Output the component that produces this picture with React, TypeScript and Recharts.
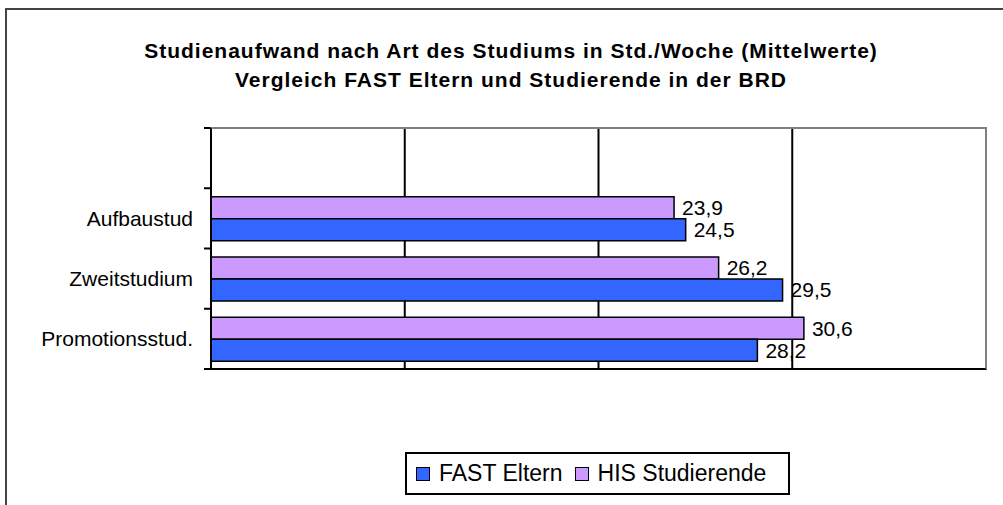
import React from 'react';
import { BarChart, Bar, XAxis, YAxis, CartesianGrid, LabelList } from 'recharts';

const categories = ['', 'Aufbaustud', 'Zweitstudium', 'Promotionsstud.'];
const fastEltern = [null, 24.5, 29.5, 28.2];
const hisStudierende = [null, 23.9, 26.2, 30.6];
const xTicks = [0, 10, 20, 30, 40];
const xMax = 40;
const titleLines = [
  'Studienaufwand nach Art des Studiums in Std./Woche (Mittelwerte)',
  'Vergleich FAST Eltern und Studierende in der BRD',
];
const series = [
  { key: 'fast', name: 'FAST Eltern', color: '#3366FF' },
  { key: 'his', name: 'HIS Studierende', color: '#CC99FF' },
];

const data = categories.map((c, i) => ({ cat: c, fast: fastEltern[i], his: hisStudierende[i] }));

const FONT = '"Liberation Sans", Arial, sans-serif';
const W = 1003;
const H = 505;
const margin = { top: 128, right: 17, bottom: 136, left: 11 };
const Y_AXIS_W = 200;
const plotLeft = margin.left + Y_AXIS_W;
const plotW = W - plotLeft - margin.right;
const plotH = H - margin.top - margin.bottom;
const halfBand = plotH / categories.length / 2;

const fmt = (v: any) => (v == null ? '' : String(v).replace('.', ','));

const YTick = (props: any) => {
  const { y, payload, index } = props;
  const isLast = index === categories.length - 1;
  return (
    <g>
      <line x1={plotLeft - 7} x2={plotLeft} y1={y - halfBand} y2={y - halfBand} stroke="#000" strokeWidth={2} />
      {isLast && (
        <line x1={plotLeft - 7} x2={plotLeft} y1={y + halfBand} y2={y + halfBand} stroke="#000" strokeWidth={2} />
      )}
      <text x={plotLeft - 18} y={y} dy="0.36em" textAnchor="end" fontSize={21} fontFamily={FONT} fill="#000">
        {payload.value}
      </text>
    </g>
  );
};

export default function App() {
  return (
    <div style={{ position: 'absolute', left: 0, top: 0, width: W, height: H, background: '#fff', overflow: 'hidden', fontFamily: FONT }}>
      <div style={{ position: 'absolute', left: 5, top: 8, width: 1100, height: 600, border: '2px solid #444', boxSizing: 'border-box' }} />
      {titleLines.map((t, i) => (
        <div
          key={i}
          style={{
            position: 'absolute',
            left: 0,
            width: 1022,
            top: 36 + i * 29,
            height: 29,
            lineHeight: '29px',
            textAlign: 'center',
            fontWeight: 'bold',
            fontSize: 21,
            letterSpacing: 1,
            color: '#000',
            whiteSpace: 'nowrap',
          }}
        >
          {t}
        </div>
      ))}
      <div style={{ position: 'absolute', left: 0, top: 0 }}>
        <BarChart width={W} height={H} data={data} layout="vertical" margin={margin} barCategoryGap="14%" barGap={0}>
          <CartesianGrid horizontal={false} vertical={true} stroke="#000" strokeWidth={2} />
          <XAxis type="number" domain={[0, xMax]} ticks={xTicks} hide />
          <YAxis type="category" dataKey="cat" width={Y_AXIS_W} tickLine={false} tick={<YTick />} interval={0} axisLine={{ stroke: '#000', strokeWidth: 2 }} />
          <Bar dataKey="his" name="HIS Studierende" fill="#CC99FF" stroke="#000" strokeWidth={1.5} isAnimationActive={false}>
            <LabelList dataKey="his" position="right" offset={8} formatter={fmt} fontSize={21} fontFamily={FONT} fill="#000" />
          </Bar>
          <Bar dataKey="fast" name="FAST Eltern" fill="#3366FF" stroke="#000" strokeWidth={1.5} isAnimationActive={false}>
            <LabelList dataKey="fast" position="right" offset={8} formatter={fmt} fontSize={21} fontFamily={FONT} fill="#000" />
          </Bar>
        </BarChart>
      </div>
      <div
        style={{
          position: 'absolute',
          left: plotLeft - 1,
          top: margin.top - 1,
          width: plotW + 2,
          height: plotH + 2,
          boxSizing: 'border-box',
          borderTop: '2px solid #808080',
          borderRight: '2px solid #808080',
          borderBottom: '2px solid #000',
          borderLeft: '2px solid #000',
          pointerEvents: 'none',
        }}
      />
      <div
        style={{
          position: 'absolute',
          left: 405,
          top: 452,
          width: 385,
          height: 43,
          border: '2px solid #000',
          boxSizing: 'border-box',
          display: 'flex',
          alignItems: 'center',
          paddingLeft: 9,
          fontSize: 23,
          color: '#000',
          whiteSpace: 'nowrap',
        }}
      >
        {series.map((s, i) => (
          <div key={s.key} style={{ display: 'flex', alignItems: 'center', marginLeft: i === 0 ? 0 : 12 }}>
            <div style={{ width: 12, height: 12, background: s.color, border: '1.5px solid #000', marginRight: 9 }} />
            <span>{s.name}</span>
          </div>
        ))}
      </div>
    </div>
  );
}
